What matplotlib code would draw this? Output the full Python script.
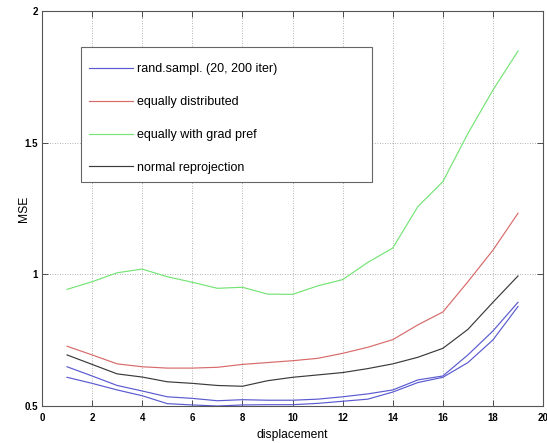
import numpy as np
import matplotlib
matplotlib.use("Agg")
import matplotlib.pyplot as plt
from matplotlib.patches import Rectangle

plt.rcParams["font.family"] = ["Liberation Sans", "DejaVu Sans"]

# displacement values
displacement = list(range(1, 20))

# MSE curves
rand_upper = [0.649, 0.614, 0.578, 0.557, 0.535, 0.529, 0.520, 0.524, 0.522, 0.522,
              0.526, 0.535, 0.546, 0.561, 0.599, 0.614, 0.694, 0.785, 0.894]
rand_lower = [0.609, 0.586, 0.561, 0.539, 0.509, 0.504, 0.500, 0.504, 0.505, 0.505,
              0.510, 0.518, 0.526, 0.553, 0.589, 0.609, 0.665, 0.751, 0.878]
equally_dist = [0.727, 0.694, 0.660, 0.649, 0.644, 0.644, 0.647, 0.658, 0.665, 0.672,
                0.681, 0.700, 0.723, 0.752, 0.808, 0.857, 0.972, 1.092, 1.232]
grad_pref = [0.943, 0.972, 1.006, 1.020, 0.991, 0.970, 0.947, 0.951, 0.925, 0.924,
             0.956, 0.980, 1.045, 1.100, 1.257, 1.352, 1.535, 1.700, 1.848]
normal_upper = [0.694, 0.658, 0.622, 0.610, 0.592, 0.586, 0.578, 0.575, 0.596, 0.609,
                0.618, 0.627, 0.642, 0.660, 0.685, 0.719, 0.791, 0.894, 0.994]

labels = ["rand.sampl. (20, 200 iter)", "equally distributed",
          "equally with grad pref", "normal reprojection"]

BLUE = "#5a5ad0"
RED = "#d86a6a"
GREEN = "#74e474"
BLACK = "#3a3a3a"
LW = 0.85

fig = plt.figure(figsize=(5.47, 4.43), dpi=100)
ax = fig.add_axes([0.0768, 0.0835, 0.916, 0.8916])

ax.plot(displacement, rand_upper, color=BLUE, lw=LW, label=labels[0])
ax.plot(displacement, equally_dist, color=RED, lw=LW, label=labels[1])
ax.plot(displacement, grad_pref, color=GREEN, lw=LW, label=labels[2])
ax.plot(displacement, normal_upper, color=BLACK, lw=LW, label=labels[3])
ax.plot(displacement, rand_lower, color=BLUE, lw=LW)

ax.set_xlim(0, 20)
ax.set_ylim(0.5, 2)
ax.set_xticks(range(0, 21, 2))
ax.set_yticks([0.5, 1, 1.5, 2])
ax.set_yticklabels(["0.5", "1", "1.5", "2"])

ax.grid(True, color="#999999", linestyle=(0, (1, 2)), linewidth=0.6)
ax.tick_params(direction="in", top=True, right=True, length=4, width=0.6,
               colors="#333333", labelsize=7)
ax.tick_params(axis="x", pad=5)
ax.tick_params(axis="y", pad=3)
for lab in ax.get_xticklabels() + ax.get_yticklabels():
    lab.set_fontweight("bold")
    lab.set_color("black")
for sp in ax.spines.values():
    sp.set_color("#555555")
    sp.set_linewidth(0.8)

ax.set_xlabel("displacement", fontsize=8.7, va="top")
ax.xaxis.set_label_coords(0.5, -0.058)
ax.set_ylabel("MSE", fontsize=8.7)
ax.yaxis.set_label_coords(-0.023, 0.5)

# legend box drawn separately so the padding matches the MATLAB look
box = Rectangle((0.0778, 0.567), 0.581, 0.342, transform=ax.transAxes,
                facecolor="white", edgecolor="#666666", linewidth=0.8, zorder=5)
ax.add_patch(box)
leg = ax.legend(loc="upper left", bbox_to_anchor=(0.0938, 0.868),
                fontsize=9, labelspacing=1.67, handlelength=3.55,
                handletextpad=0.32, borderpad=0, borderaxespad=0,
                frameon=False)
leg.set_zorder(6)

fig.savefig("out.png", dpi=100)
